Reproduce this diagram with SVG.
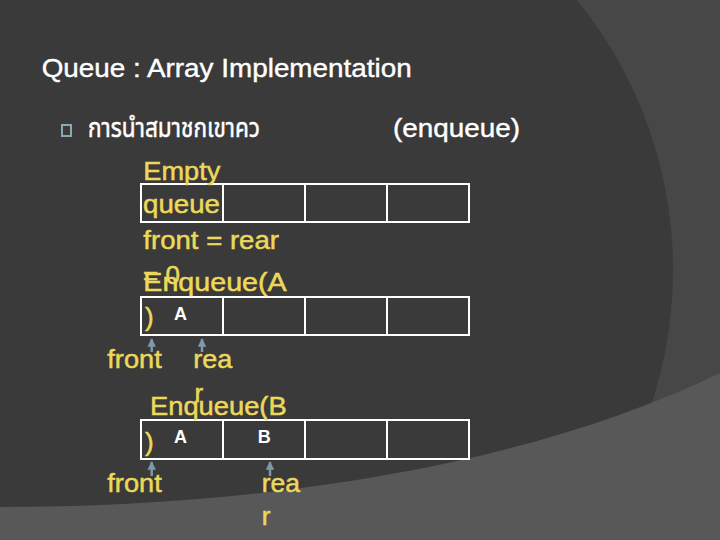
<svg xmlns="http://www.w3.org/2000/svg" width="720" height="540" viewBox="0 0 720 540">
<defs>
<style>
.title{font-family:"Liberation Sans",Arial,sans-serif;font-size:26px;fill:#ffffff;stroke:#ffffff;stroke-width:0.4}
.thai{font-family:"Noto Sans Thai","Noto Sans","DejaVu Sans",sans-serif;font-size:26px;fill:#ffffff;stroke:#ffffff;stroke-width:0.5}
.lbl{font-family:"Liberation Sans",Arial,sans-serif;font-size:26px;fill:#ecd85a;stroke:#ecd85a;stroke-width:0.5}
.cell-text{font-family:"Liberation Sans",Arial,sans-serif;font-size:18px;font-weight:bold;fill:#ffffff}
.cell{fill:none;stroke:#ffffff;stroke-width:2}
.arrow{stroke:#7d9aa8;stroke-width:2.5;fill:none;marker-end:url(#head)}
</style>
<marker id="head" viewBox="0 0 10 10" refX="9" refY="5" markerWidth="3.4" markerHeight="3.4" markerUnits="strokeWidth" orient="auto">
<path d="M0,0 L10,5 L0,10 z" fill="#7d9aa8"/>
</marker>
</defs>
<g id="background">
<rect x="0" y="0" width="720" height="540" fill="#474747"/>
<circle cx="245.3" cy="270" r="427.7" fill="#3a3a3a"/>
<path d="M0,507 C250,507 520,470 720,373 L720,540 L0,540 Z" fill="#585858"/>
</g>
<g id="title">
<text class="title" x="41.7" y="76.7" textLength="370" lengthAdjust="spacingAndGlyphs">Queue : Array Implementation</text>
</g>
<g id="bullet">
<rect x="62" y="125" width="9" height="11" fill="none" stroke="#8aa9b3" stroke-width="2"/>
<text class="thai" x="88" y="136.5" textLength="172" lengthAdjust="spacingAndGlyphs">การนำสมาชกเขาคว</text>
<text class="title" x="393" y="136.5" textLength="127" lengthAdjust="spacingAndGlyphs">(enqueue)</text>
</g>
<g id="array-empty">
<rect class="cell" x="141" y="184" width="82" height="38"/>
<rect class="cell" x="223" y="184" width="82" height="38"/>
<rect class="cell" x="305" y="184" width="82" height="38"/>
<rect class="cell" x="387" y="184" width="82" height="38"/>
</g>
<g id="label-empty">
<text class="lbl" x="143.3" y="180" textLength="77" lengthAdjust="spacingAndGlyphs">Empty</text>
<text class="lbl" x="143" y="212.5" textLength="77" lengthAdjust="spacingAndGlyphs">queue</text>
<text class="lbl" x="143.3" y="249.3" textLength="135.7" lengthAdjust="spacingAndGlyphs">front = rear</text>
<text class="lbl" x="143" y="283.5">= 0</text>
</g>
<g id="array-a">
<rect class="cell" x="141" y="297" width="82" height="38"/>
<rect class="cell" x="223" y="297" width="82" height="38"/>
<rect class="cell" x="305" y="297" width="82" height="38"/>
<rect class="cell" x="387" y="297" width="82" height="38"/>
<text class="cell-text" x="174" y="319.5">A</text>
</g>
<g id="label-enqueue-a">
<text class="lbl" x="143.3" y="290.5" textLength="143.4" lengthAdjust="spacingAndGlyphs">Enqueue(A</text>
<text class="lbl" x="145" y="326">)</text>
</g>
<g id="pointer-labels-a">
<text class="lbl" x="107.3" y="368.3" textLength="54.4" lengthAdjust="spacingAndGlyphs">front</text>
<text class="lbl" x="193.3" y="368.3" textLength="39" lengthAdjust="spacingAndGlyphs">rea</text>
<text class="lbl" x="194.5" y="401.6">r</text>
</g>
<g id="array-ab">
<rect class="cell" x="141" y="420" width="82" height="39"/>
<rect class="cell" x="223" y="420" width="82" height="39"/>
<rect class="cell" x="305" y="420" width="82" height="39"/>
<rect class="cell" x="387" y="420" width="82" height="39"/>
<text class="cell-text" x="174" y="442.7">A</text>
<text class="cell-text" x="257.7" y="442.7">B</text>
</g>
<g id="label-enqueue-b">
<text class="lbl" x="150" y="415" textLength="136.7" lengthAdjust="spacingAndGlyphs">Enqueue(B</text>
<text class="lbl" x="145" y="451">)</text>
</g>
<g id="pointer-labels-b">
<text class="lbl" x="107.3" y="491.7" textLength="54.4" lengthAdjust="spacingAndGlyphs">front</text>
<text class="lbl" x="261.7" y="491.7" textLength="38.3" lengthAdjust="spacingAndGlyphs">rea</text>
<text class="lbl" x="261.7" y="525">r</text>
</g>
<g id="connectors">
<line class="arrow" x1="151.7" y1="352" x2="151.7" y2="339"/>
<line class="arrow" x1="202" y1="352" x2="202" y2="339"/>
<line class="arrow" x1="151.7" y1="476" x2="151.7" y2="462"/>
<line class="arrow" x1="270" y1="476" x2="270" y2="462"/>
</g>
</svg>
